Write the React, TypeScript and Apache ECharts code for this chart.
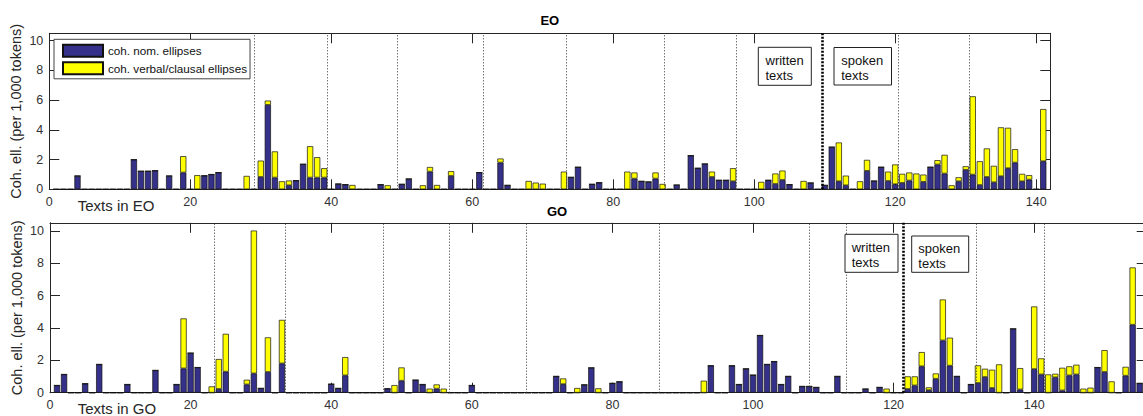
import React, { useEffect, useRef } from 'react';
import * as echarts from 'echarts';

// ---- data ----
const NOM = 'coh. nom. ellipses';
const VERB = 'coh. verbal/clausal ellipses';
const Y_LABEL = 'Coh. ell. (per 1,000 tokens)';
const xTickStep = 20;
const yTickStep = 2;
const eoXMax = 142;
const goXMax = 156;

// EO: texts 1..141
const eoNom = [
  0, 0, 0, 0.9, 0, 0, 0, 0, 0, 0,
  0, 2.0, 1.22, 1.22, 1.26, 0, 0.9, 0, 1.13, 0,
  0, 0.92, 1.0, 1.13, 0, 0, 0, 0, 0, 0.83,
  5.68, 0.79, 0, 0.27, 0.59, 1.69, 0.79, 0.79, 0.79, 0,
  0.36, 0.32, 0, 0, 0, 0, 0.32, 0, 0, 0.34,
  0.7, 0, 0, 1.19, 0, 0, 0.9, 0, 0, 0,
  1.13, 0, 0, 1.8, 0.27, 0, 0, 0, 0, 0,
  0, 0, 0, 0.81, 1.49, 0, 0.34, 0.45, 0, 0,
  0, 0, 0.72, 0.54, 0.5, 0.72, 0, 0, 0.29, 0,
  2.27, 1.42, 1.71, 0.83, 0.61, 0.61, 0.54, 0, 0, 0,
  0, 0.61, 0.36, 0.63, 0.32, 0, 0, 0.43, 0, 0.27,
  2.84, 0.54, 0.27, 0, 0, 1.24, 0.56, 1.49, 0.56, 0.34,
  0.43, 0.59, 0, 0.5, 1.49, 1.67, 1.06, 0, 0.54, 1.31,
  0.99, 0.29, 0.83, 0.47, 0.88, 1.42, 1.8, 0.54, 0.65, 0,
  1.89,
];
const eoVerb = [
  0, 0, 0, 0, 0, 0, 0, 0, 0, 0,
  0, 0, 0, 0, 0, 0, 0, 0, 1.1, 0,
  0.95, 0, 0, 0, 0, 0, 0, 0.9, 0, 1.1,
  0.29, 1.76, 0.54, 0.32, 0, 0, 2.11, 1.37, 0.63, 0,
  0, 0, 0.29, 0, 0, 0, 0, 0.27, 0, 0,
  0, 0, 0.27, 0.31, 0.29, 0, 0.32, 0, 0, 0,
  0, 0, 0, 0.27, 0, 0, 0, 0.56, 0.45, 0.38,
  0, 0, 1.19, 0, 0, 0, 0, 0, 0, 0,
  0, 1.19, 0.41, 0, 0, 0.41, 0.36, 0, 0, 0,
  0, 0, 0, 0.36, 0, 0, 0.88, 0, 0, 0,
  0.5, 0, 0.7, 0.63, 0, 0, 0.56, 0, 0, 0,
  0, 2.61, 0.65, 0, 0.54, 0.74, 0, 0, 0.63, 1.33,
  0.61, 0.54, 1.06, 0.49, 0, 0.29, 1.26, 0.27, 0.27, 0.24,
  5.27, 1.6, 1.92, 1.11, 3.29, 2.72, 0.9, 0.5, 0.3, 0,
  3.51,
];

// GO: texts 1..155
const goNom = [
  0.45, 1.13, 0, 0, 0.56, 0, 1.75, 0, 0, 0,
  0.51, 0, 0, 0, 1.38, 0, 0, 0.51, 1.5, 2.45,
  1.56, 0, 0, 0.23, 1.3, 0, 0, 0.51, 1.19, 0.27,
  1.28, 0, 1.81, 0, 0, 0, 0, 0, 0, 0.53,
  0.27, 1.07, 0, 0, 0, 0, 0, 0.25, 0, 0.74,
  0, 0.78, 0.51, 0, 0.25, 0, 0, 0, 0, 0.45,
  0, 0, 0, 0, 0, 0, 0, 0, 0, 0,
  0, 1.01, 0.53, 0, 0, 0.49, 1.54, 0, 0, 0.58,
  0.68, 0, 0, 0, 0, 0, 0, 0, 0, 0,
  0, 0, 0, 1.67, 0, 0, 1.67, 0.51, 1.48, 1.09,
  3.54, 1.75, 1.93, 0.51, 1.01, 0, 0.39, 0.39, 0.33, 0,
  0, 1.01, 0, 0, 0, 0.23, 0, 0.33, 0, 0,
  0, 0.23, 0.45, 1.63, 0.16, 0.86, 3.23, 1.67, 1.01, 0,
  0.51, 0.6, 0.97, 0.29, 0, 0, 3.95, 0.2, 0, 1.46,
  1.13, 0, 0.95, 0.14, 1.07, 1.13, 0, 0, 1.56, 1.28,
  0, 0, 1.05, 4.2, 0.58,
];
const goVerb = [
  0, 0, 0, 0, 0, 0, 0, 0, 0, 0,
  0, 0, 0, 0, 0, 0, 0, 0, 3.09, 0,
  0, 0, 0.39, 1.85, 2.34, 0, 0, 0.29, 8.83, 0,
  2.14, 0, 2.69, 0, 0, 0, 0, 0, 0, 0,
  0, 1.13, 0, 0, 0, 0, 0, 0, 0.47, 0.82,
  0, 0, 0, 0.25, 0.26, 0.25, 0, 0, 0, 0,
  0, 0, 0, 0, 0, 0, 0, 0, 0, 0,
  0, 0, 0.35, 0, 0.29, 0, 0, 0.27, 0, 0,
  0, 0, 0, 0, 0, 0, 0, 0, 0, 0,
  0, 0, 0.74, 0, 0, 0, 0, 0, 0, 0,
  0, 0, 0, 0, 0, 0, 0, 0, 0, 0,
  0, 0, 0, 0, 0, 0, 0, 0, 0.25, 0,
  0, 0.78, 0.56, 0.88, 0.17, 0.33, 2.53, 1.73, 0, 0,
  0, 1.09, 0.51, 1.13, 1.75, 0, 0, 1.32, 0, 3.87,
  0.99, 1.13, 0.22, 1.4, 0.56, 0.6, 0.25, 0.31, 0, 1.35,
  0.7, 0, 0.55, 3.54, 0,
];

// genre separators (x positions) and the written/spoken boundary
const eoSeparators = [29.1, 39.4, 49.4, 61.5, 73.4, 87.3, 97.4, 120.4, 130.5];
const eoBoundary = 109.6;
const goSeparators = [23.3, 33.4, 47.4, 56.8, 67.7, 86.6, 108.0, 113.2, 131.7, 141.4];
const goBoundary = 121.4;

// ---- styling ----
const FONT = "'Liberation Sans', Arial, Helvetica, sans-serif";
const AX = '#262626';
const BLUE = '#35308A';
const YELLOW = '#FFFF00';

const mkX = (gridIndex: number, max: number, pos: 'bottom' | 'top') => ({
  type: 'value', gridIndex, min: 0, max, interval: xTickStep, position: pos,
  axisLine: { show: true, onZero: false, lineStyle: { color: AX, width: 1 } },
  axisTick: { show: true, inside: true, length: 10, lineStyle: { color: AX } },
  axisLabel: { show: pos === 'bottom', showMaxLabel: false, margin: 6, fontSize: 12.5, color: '#333', fontFamily: FONT },
  splitLine: { show: false },
});
// hidden category axis carrying the bars (categories 0..max, so text k sits at x = k)
const mkCat = (gridIndex: number, max: number) => ({
  type: 'category', gridIndex, show: false, boundaryGap: false, position: 'bottom',
  data: Array.from({ length: max + 1 }, (_, i) => String(i)),
});
const mkY = (gridIndex: number, pos: 'left' | 'right') => ({
  type: 'value', gridIndex, min: 0, max: 10.5, interval: yTickStep, position: pos,
  axisLine: { show: true, onZero: false, lineStyle: { color: AX, width: 1 } },
  axisTick: { show: true, inside: true, length: 10, lineStyle: { color: AX } },
  axisLabel: { show: pos === 'left', showMaxLabel: false, margin: 6, fontSize: 12.5, color: '#333', fontFamily: FONT },
  splitLine: { show: false },
  name: pos === 'left' ? Y_LABEL : '',
  nameLocation: 'middle', nameGap: 26, nameMoveOverlap: false,
  nameTextStyle: { fontSize: 14.5, color: '#262626', fontFamily: FONT },
});

const sepLines = (list: number[], boundary: number) => ({
  silent: true, symbol: ['none', 'none'], label: { show: false },
  lineStyle: { type: [1, 2], color: '#333', width: 1 },
  data: [
    ...list.map((v) => ({ xAxis: v })),
    { xAxis: boundary, lineStyle: { type: [2, 1.5], color: '#000', width: 2.6 } },
  ],
});

const barStyle = (color: string) => ({ color, borderColor: '#111', borderWidth: 0.7 });
const toPairs = (arr: number[]) => arr.map((v, i) => [String(i + 1), v]);

function textBox(x: number, y: number, w: number, h: number, tx: number, ty: number, label: string) {
  return [
    { type: 'rect', z: 100, shape: { x, y, width: w, height: h }, style: { fill: '#fff', stroke: '#222', lineWidth: 1 } },
    { type: 'text', z: 101, x: tx, y: ty, style: { text: label, fontSize: 13, fontFamily: FONT, fill: '#111', lineHeight: 15, verticalAlign: 'top', align: 'left' } },
  ];
}

export default function App() {
  const ref = useRef<HTMLDivElement>(null);
  useEffect(() => {
    if (!ref.current) return;
    const chart = echarts.init(ref.current, null, { renderer: 'svg' });
    const option: any = {
      animation: false,
      textStyle: { fontFamily: FONT },
      grid: [
        { left: 49.3, top: 33.3, width: 1001, height: 156, outerBoundsMode: 'none', containLabel: false },
        { left: 50, top: 222.8, width: 1096.7, height: 169.9, outerBoundsMode: 'none', containLabel: false },
      ],
      xAxis: [
        mkX(0, eoXMax, 'bottom'), mkX(0, eoXMax, 'top'), mkCat(0, eoXMax),
        mkX(1, goXMax, 'bottom'), mkX(1, goXMax, 'top'), mkCat(1, goXMax),
      ],
      yAxis: [mkY(0, 'left'), mkY(0, 'right'), mkY(1, 'left'), mkY(1, 'right')],
      legend: {
        show: true, data: [NOM, VERB], orient: 'vertical', left: 54, top: 39.3,
        icon: 'rect', itemWidth: 40, itemHeight: 12, itemGap: 3.5, padding: [4.5, 3, 3.5, 8],
        borderColor: '#444', borderWidth: 1, backgroundColor: '#fff', selectedMode: false,
        textStyle: { fontSize: 11.7, lineHeight: 12, color: '#111', fontFamily: FONT },
        z: 50,
      },
      series: [
        { type: 'bar', name: NOM, stack: 'eo', xAxisIndex: 2, yAxisIndex: 0, barWidth: 6.2, itemStyle: barStyle(BLUE), data: toPairs(eoNom) },
        { type: 'bar', name: VERB, stack: 'eo', xAxisIndex: 2, yAxisIndex: 0, barWidth: 6.2, itemStyle: barStyle(YELLOW), data: toPairs(eoVerb) },
        { type: 'bar', name: NOM, stack: 'go', xAxisIndex: 5, yAxisIndex: 2, barWidth: 6.2, itemStyle: barStyle(BLUE), data: toPairs(goNom) },
        { type: 'bar', name: VERB, stack: 'go', xAxisIndex: 5, yAxisIndex: 2, barWidth: 6.2, itemStyle: barStyle(YELLOW), data: toPairs(goVerb) },
        { type: 'line', name: 'eo-separators', xAxisIndex: 0, yAxisIndex: 0, data: [], symbol: 'none', markLine: sepLines(eoSeparators, eoBoundary) },
        { type: 'line', name: 'go-separators', xAxisIndex: 3, yAxisIndex: 2, data: [], symbol: 'none', markLine: sepLines(goSeparators, goBoundary) },
      ],
      graphic: [
        { type: 'text', z: 100, x: 549.8, y: 20, style: { text: 'EO', fontSize: 13, fontWeight: 'bold', fontFamily: FONT, fill: '#000', align: 'center', verticalAlign: 'middle' } },
        { type: 'text', z: 100, x: 557, y: 211, style: { text: 'GO', fontSize: 13, fontWeight: 'bold', fontFamily: FONT, fill: '#000', align: 'center', verticalAlign: 'middle' } },
        { type: 'text', z: 100, x: 77.7, y: 205, style: { text: 'Texts in EO', fontSize: 15, fontFamily: FONT, fill: '#262626', align: 'left', verticalAlign: 'middle' } },
        { type: 'text', z: 100, x: 77.7, y: 408.5, style: { text: 'Texts in GO', fontSize: 15, fontFamily: FONT, fill: '#262626', align: 'left', verticalAlign: 'middle' } },
        ...textBox(758.3, 47.3, 53, 38, 765.5, 53.2, 'written\ntexts'),
        ...textBox(834, 47.5, 57.5, 37.5, 841.2, 53.2, 'spoken\ntexts'),
        ...textBox(845, 234.3, 53, 38, 851.7, 239.8, 'written\ntexts'),
        ...textBox(911.7, 236, 57, 36.3, 918.3, 240.8, 'spoken\ntexts'),
      ],
    };
    chart.setOption(option);
    return () => chart.dispose();
  }, []);
  return <div ref={ref} style={{ position: 'absolute', left: 0, top: 0, width: 1143, height: 416 }} />;
}
